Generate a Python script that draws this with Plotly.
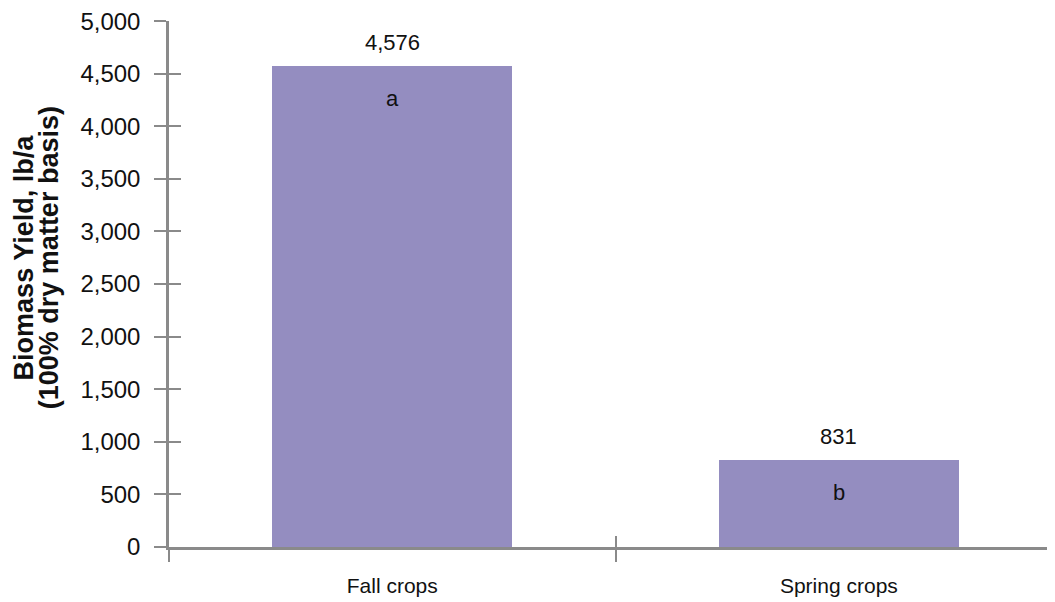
import plotly.graph_objects as go

# Biomass yield of cover crops (lb/a, 100% dry matter basis)
crops = ["Fall crops", "Spring crops"]
yield_lb = [4576, 831]
letters = ["a", "b"]
y_ticks = list(range(0, 5001, 500))

GRAY = "#8a8a8a"
BAR = "#948dc0"
FONT = "Liberation Sans, Arial, Helvetica, sans-serif"
Y_RANGE = [0, 5001]

fig = go.Figure()

fig.add_trace(go.Bar(
    x=crops, y=yield_lb,
    marker=dict(color=BAR, line=dict(width=0)),
    width=0.537,
    hoverinfo="x+y",
    showlegend=False,
))

# empty trace so the overlay axes (inside tick marks) get drawn
fig.add_trace(go.Scatter(x=[], y=[], xaxis="x2", yaxis="y2", showlegend=False))

# value above each bar, significance letter inside the bar top
for c, v, l in zip(crops, yield_lb, letters):
    fig.add_annotation(x=c, y=v, text=f"{v:,}", showarrow=False,
                       yanchor="bottom", yshift=9,
                       font=dict(size=22, color="#111111", family=FONT))
    fig.add_annotation(x=c, y=v, text=l, showarrow=False,
                       yanchor="middle", yshift=-33,
                       font=dict(size=22, color="#111111", family=FONT))

# two-line bold y title
fig.add_annotation(xref="paper", yref="paper", x=-0.164, y=0.55,
                   text="<b>Biomass Yield, lb/a</b>", textangle=-90,
                   showarrow=False, xanchor="center", yanchor="middle",
                   font=dict(size=27, color="#111111", family=FONT))
fig.add_annotation(xref="paper", yref="paper", x=-0.136, y=0.55,
                   text="<b>(100% dry matter basis)</b>", textangle=-90,
                   showarrow=False, xanchor="center", yanchor="middle",
                   font=dict(size=27, color="#111111", family=FONT))

# page body adds an 8px offset, margins compensate for it
fig.update_layout(
    width=1055, height=602,
    paper_bgcolor="white", plot_bgcolor="white",
    margin=dict(l=161, r=8, t=13, b=63),
    font=dict(family=FONT, color="#111111"),
    bargap=0,
    xaxis=dict(
        type="category", range=[-0.5, 1.484],
        tickson="boundaries", ticks="outside", ticklen=12, tickwidth=2,
        tickcolor=GRAY, showline=True, linecolor=GRAY, linewidth=2.5,
        showgrid=False, zeroline=False, ticklabelstandoff=18,
        tickfont=dict(size=21, color="#111111"),
    ),
    yaxis=dict(
        range=Y_RANGE, tickvals=y_ticks, tickformat=",",
        ticks="outside", ticklen=12, tickwidth=2, tickcolor=GRAY,
        showline=True, linecolor=GRAY, linewidth=2.5,
        showgrid=False, zeroline=False, ticklabelstandoff=9,
        ticklabeloverflow="allow",
        tickfont=dict(size=24, color="#111111"), automargin=False,
    ),
    xaxis2=dict(
        overlaying="x", anchor="y", range=[-0.5, 1.484],
        tickvals=[-0.5, 0.5], ticks="inside", ticklen=11, tickwidth=2,
        tickcolor=GRAY, showticklabels=False, showline=False,
        showgrid=False, zeroline=False,
    ),
    yaxis2=dict(
        overlaying="y", anchor="x", side="left", range=Y_RANGE,
        tickvals=y_ticks, ticks="inside", ticklen=12, tickwidth=2,
        tickcolor=GRAY, showticklabels=False, showline=False,
        showgrid=False, zeroline=False,
    ),
)

fig.write_html("out.html")
